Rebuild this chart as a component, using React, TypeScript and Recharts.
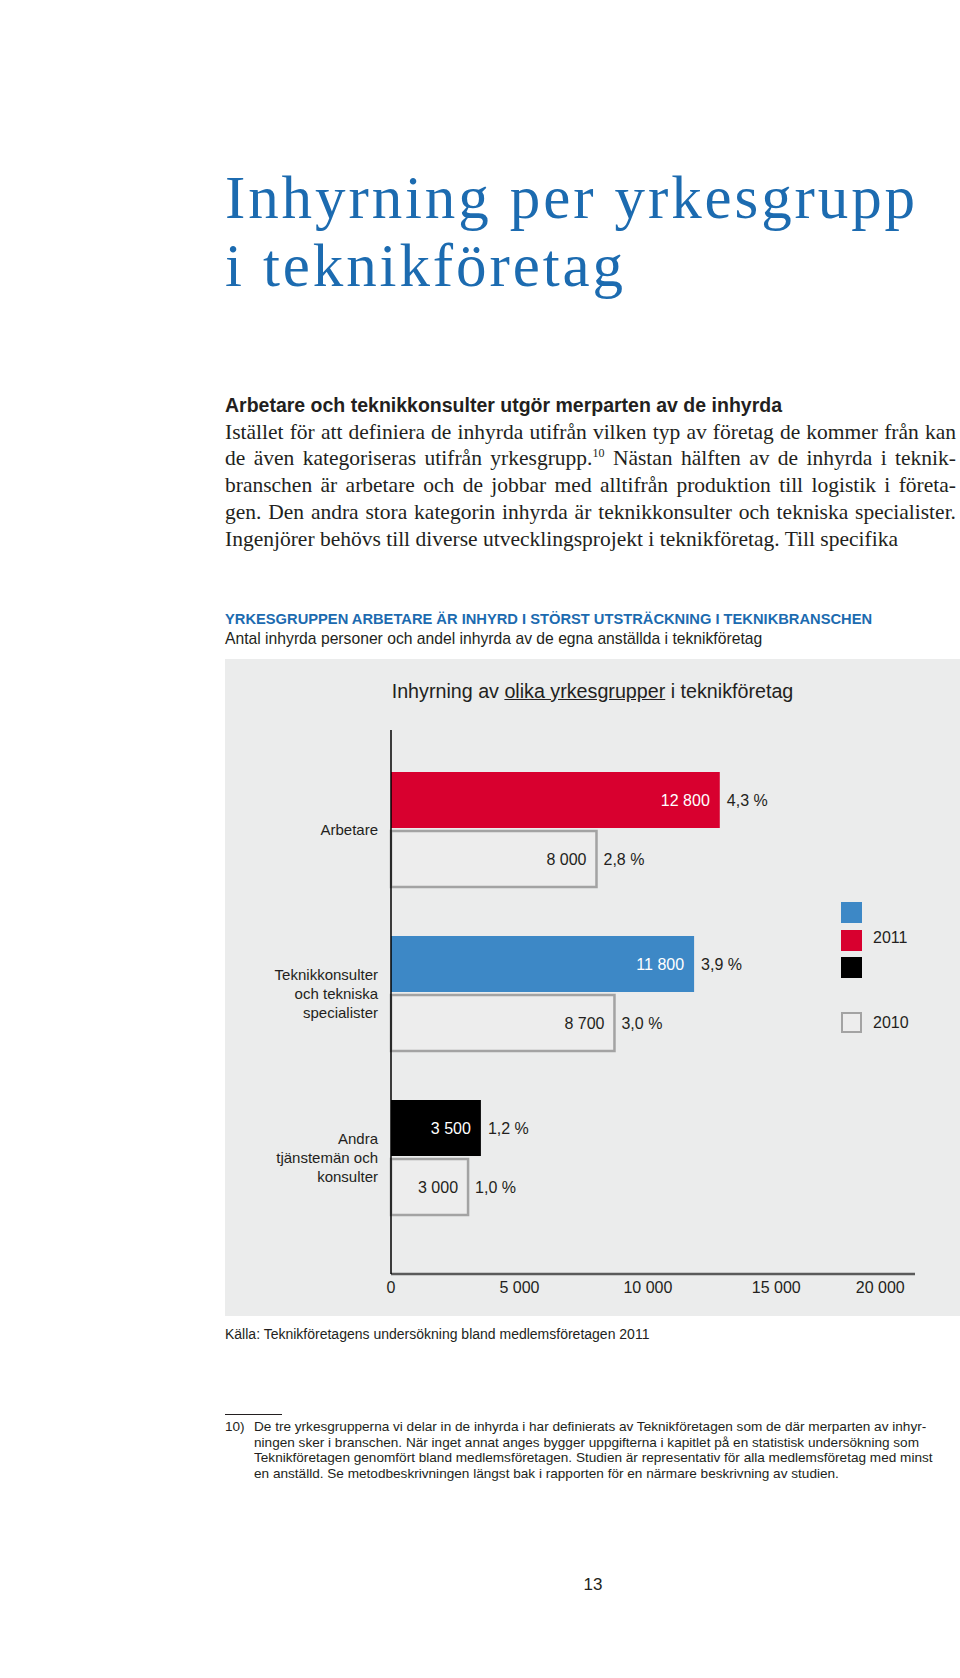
import { Bar, BarChart, Cell, LabelList, Legend, XAxis, YAxis } from "recharts"

const categories = [
  "Arbetare",
  "Teknikkonsulter och tekniska specialister",
  "Andra tjänstemän och konsulter",
]
const categoryLines = [
  ["Arbetare"],
  ["Teknikkonsulter", "och tekniska", "specialister"],
  ["Andra", "tjänstemän och", "konsulter"],
]
const values2011 = [12800, 11800, 3500]
const values2010 = [8000, 8700, 3000]
const share2011 = [4.3, 3.9, 1.2]
const share2010 = [2.8, 3.0, 1.0]
const colors2011 = ["#3d88c6", "#d8002f", "#000000"]
const barColors2011 = ["#d8002f", "#3d88c6", "#000000"]
const years = ["2011", "2010"]
const xTicks = [0, 5000, 10000, 15000, 20000]

const data = categories.map((name, i) => ({
  name,
  v2011: values2011[i],
  v2010: values2010[i],
  p2011: share2011[i],
  p2010: share2010[i],
}))

const sans = "'Liberation Sans', Arial, sans-serif"
const serif = "'Liberation Serif', 'Times New Roman', serif"
const ink = "#231f20"
const blue = "#1c6bb0"

const fmtNum = (v: number) => String(v).replace(/\B(?=(\d{3})+(?!\d))/g, " ")
const fmtPct = (v: number) => v.toFixed(1).replace(".", ",") + " %"

function CategoryTick(props: any) {
  const { x, y, payload } = props
  const lines = categoryLines[payload.index] ?? [payload.value]
  const first = y - ((lines.length - 1) * 19) / 2 + 5.5
  return (
    <text x={x} y={first} textAnchor="end" fontSize={15} fill={ink} fontFamily={sans}>
      {lines.map((l, i) => (
        <tspan key={i} x={x} y={first + i * 19}>
          {l}
        </tspan>
      ))}
    </text>
  )
}

function ValueTick(props: any) {
  const { x, y, payload, index } = props
  const last = index === xTicks.length - 1
  return (
    <text x={x} y={y} dy="0.71em" textAnchor={last ? "end" : "middle"} fontSize={16} fill={ink} fontFamily={sans}>
      {fmtNum(payload.value)}
    </text>
  )
}

function YearLegend() {
  return (
    <div style={{ position: "relative", width: 90, height: 135, fontFamily: sans, fontSize: 16, color: ink }}>
      {colors2011.map((c, i) => (
        <div
          key={i}
          style={{ position: "absolute", left: 0, top: i * 27.5, width: 21, height: 21, background: c }}
        />
      ))}
      <div style={{ position: "absolute", left: 32, top: 26, lineHeight: "20px" }}>{years[0]}</div>
      <div
        style={{
          position: "absolute",
          left: 0,
          top: 110,
          width: 17,
          height: 17,
          border: "2.5px solid #a3a3a3",
          background: "#ededed",
        }}
      />
      <div style={{ position: "absolute", left: 32, top: 111, lineHeight: "20px" }}>{years[1]}</div>
    </div>
  )
}

const titleLines = ["Inhyrning per yrkesgrupp", "i teknikföretag"]

const bodyLines = [
  "Istället för att definiera de inhyrda utifrån vilken typ av företag de kommer från kan",
  "SUP",
  "branschen är arbetare och de jobbar med alltifrån produktion till logistik i företa-",
  "gen. Den andra stora kategorin inhyrda är teknikkonsulter och tekniska specialister.",
  "Ingenjörer behövs till diverse utvecklingsprojekt i teknikföretag. Till specifika",
]

const footLines = [
  "De tre yrkesgrupperna vi delar in de inhyrda i har definierats av Teknikföretagen som de där merparten av inhyr-",
  "ningen sker i branschen. När inget annat anges bygger uppgifterna i kapitlet på en statistisk undersökning som",
  "Teknikföretagen genomfört bland medlemsföretagen. Studien är representativ för alla medlemsföretag med minst",
  "en anställd. Se metodbeskrivningen längst bak i rapporten för en närmare beskrivning av studien.",
]

export default function App() {
  return (
    <div
      style={{
        position: "absolute",
        left: 0,
        top: 0,
        width: 960,
        height: 1678,
        background: "#fff",
        fontFamily: sans,
        color: ink,
        overflow: "hidden",
      }}
    >
      {/* page title: smaller size + tracking so the two lines' boxes don't collide */}
      {titleLines.map((t, i) => (
        <div
          key={i}
          style={{
            position: "absolute",
            left: 225,
            top: 168.4 + i * 67.7,
            fontFamily: serif,
            fontSize: 61,
            lineHeight: "60px",
            letterSpacing: 2.9,
            color: blue,
            whiteSpace: "nowrap",
          }}
        >
          {t}
        </div>
      ))}

      {/* section heading + body */}
      <div
        style={{
          position: "absolute",
          left: 225,
          top: 394,
          fontSize: 19.5,
          lineHeight: "22px",
          fontWeight: 700,
          whiteSpace: "nowrap",
        }}
      >
        Arbetare och teknikkonsulter utgör merparten av de inhyrda
      </div>
      <div style={{ position: "absolute", left: 225, top: 418.5, width: 731, fontFamily: serif, fontSize: 21.5, lineHeight: "26.75px" }}>
        {bodyLines.map((l, i) => (
          <div
            key={i}
            style={{
              whiteSpace: "nowrap",
              textAlign: i < 4 ? "justify" : "left",
              textAlignLast: i < 4 ? "justify" : "left",
            }}
          >
            {l === "SUP" ? (
              <>
                de även kategoriseras utifrån yrkesgrupp.
                <sup style={{ fontSize: 12, lineHeight: 0, verticalAlign: "8px" }}>10</sup> Nästan hälften av de inhyrda i teknik-
              </>
            ) : (
              l
            )}
          </div>
        ))}
      </div>

      {/* chart header */}
      <div
        style={{
          position: "absolute",
          left: 225,
          top: 610,
          fontSize: 14.7,
          lineHeight: "18px",
          fontWeight: 700,
          color: blue,
          whiteSpace: "nowrap",
        }}
      >
        YRKESGRUPPEN ARBETARE ÄR INHYRD I STÖRST UTSTRÄCKNING I TEKNIKBRANSCHEN
      </div>
      <div style={{ position: "absolute", left: 225, top: 629.5, fontSize: 15.7, lineHeight: "18px", whiteSpace: "nowrap" }}>
        Antal inhyrda personer och andel inhyrda av de egna anställda i teknikföretag
      </div>

      {/* chart panel */}
      <div style={{ position: "absolute", left: 225, top: 659, width: 735, height: 657, background: "#ebecec" }}>
        <div
          style={{
            position: "absolute",
            left: 0,
            top: 21,
            width: 735,
            textAlign: "center",
            fontSize: 19.7,
            lineHeight: "22px",
            whiteSpace: "nowrap",
          }}
        >
          Inhyrning av <span style={{ textDecoration: "underline" }}>olika yrkesgrupper</span> i teknikföretag
        </div>
        <BarChart
          width={735}
          height={657}
          data={data}
          layout="vertical"
          margin={{ top: 71, right: 45, bottom: 12, left: 0 }}
          barGap={3}
          style={{ fontFamily: sans }}
        >
          <XAxis
            type="number"
            domain={[0, 20400]}
            ticks={xTicks}
            axisLine={{ stroke: "#5a5a5a", strokeWidth: 2.5 }}
            tickLine={false}
            height={30}
            tick={<ValueTick />}
          />
          <YAxis
            type="category"
            dataKey="name"
            width={166}
            axisLine={{ stroke: "#000", strokeWidth: 1.5 }}
            tickLine={false}
            tickMargin={7}
            padding={{ top: 17, bottom: 35 }}
            tick={<CategoryTick />}
            interval={0}
          />
          <Legend
            layout="horizontal"
            verticalAlign="middle"
            align="center"
            content={<YearLegend />}
            wrapperStyle={{ position: "absolute", left: 616, top: 243, width: 90, height: 135 }}
          />
          <Bar dataKey="v2011" barSize={56} isAnimationActive={false}>
            {data.map((_, i) => (
              <Cell key={i} fill={barColors2011[i]} />
            ))}
            <LabelList dataKey="v2011" position="insideRight" offset={10} formatter={(v: any) => fmtNum(v)} fill="#fff" fontSize={16} />
            <LabelList dataKey="p2011" position="right" offset={7} formatter={(v: any) => fmtPct(v)} fill={ink} fontSize={16} />
          </Bar>
          <Bar dataKey="v2010" barSize={56} fill="#ededed" stroke="#a3a3a3" strokeWidth={2.5} isAnimationActive={false}>
            <LabelList dataKey="v2010" position="insideRight" offset={10} formatter={(v: any) => fmtNum(v)} fill={ink} fontSize={16} />
            <LabelList dataKey="p2010" position="right" offset={7} formatter={(v: any) => fmtPct(v)} fill={ink} fontSize={16} />
          </Bar>
        </BarChart>
      </div>

      <div style={{ position: "absolute", left: 225, top: 1325, fontSize: 14, lineHeight: "18px", whiteSpace: "nowrap" }}>
        Källa: Teknikföretagens undersökning bland medlemsföretagen 2011
      </div>

      {/* footnote */}
      <div style={{ position: "absolute", left: 225, top: 1414, width: 57, height: 1, background: ink }} />
      <div style={{ position: "absolute", left: 225, top: 1419, fontSize: 13.6, lineHeight: "15.6px" }}>10)</div>
      <div style={{ position: "absolute", left: 254, top: 1419, fontSize: 13.6, lineHeight: "15.6px" }}>
        {footLines.map((l, i) => (
          <div key={i} style={{ whiteSpace: "nowrap" }}>
            {l}
          </div>
        ))}
      </div>

      <div style={{ position: "absolute", left: 543, top: 1575, width: 100, textAlign: "center", fontSize: 17, lineHeight: "20px" }}>
        13
      </div>
    </div>
  )
}
